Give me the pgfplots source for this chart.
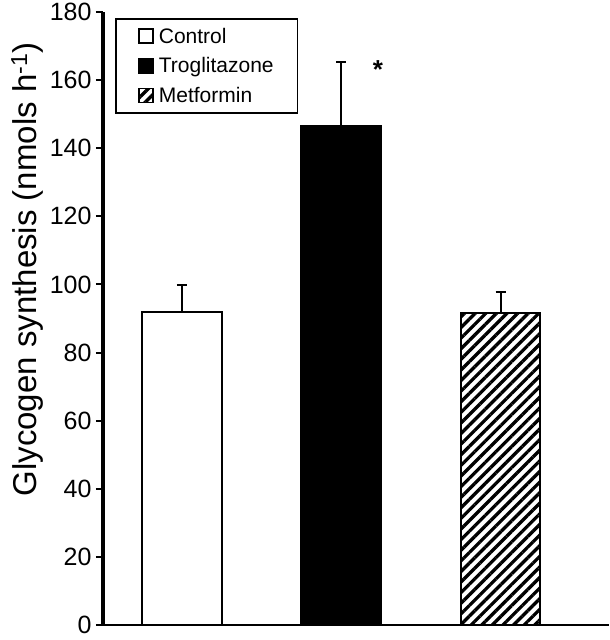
\documentclass[border=0pt]{standalone}
\usepackage{fontspec}
\setmainfont{Liberation Sans}
\usepackage{pgfplots}
\pgfplotsset{compat=1.18}
\usetikzlibrary{patterns.meta}
\pgfplotsset{sqlegend/.style={legend image code/.code={\draw[##1,line width=1.5pt] (0pt,-7pt) rectangle (14pt,7pt); \path (0pt,0pt) (17pt,0pt);}}}
\begin{document}
\begin{tikzpicture}
\begin{axis}[
  scale only axis, width=506pt, height=613pt,
  xmin=-0.495, xmax=2.68, ymin=0, ymax=180,
  axis x line*=bottom, axis y line*=left,
  x axis line style={line width=2pt},
  y axis line style={line width=3.5pt},
  xtick=\empty,
  ytick={0,20,...,180},
  tick align=outside, major tick length=7pt,
  tick style={line width=2pt, black},
  /pgf/number format/assume math mode=true,
  tick label style={font=\fontsize{25}{25}\selectfont},
  yticklabel style={xshift=-1pt},
  ylabel={Glycogen synthesis (nmols h\textsuperscript{-1})},
  ylabel style={font=\fontsize{33}{33}\selectfont, at={(ticklabel cs:0.58)}},
  legend style={at={(rel axis cs:0.024,0.99)}, anchor=north west, draw=black, line width=1.5pt,
    font=\fontsize{21}{22}\selectfont, inner xsep=22pt, inner ysep=7pt, row sep=9pt},
  legend cell align=left,
  bar width=0.5,
  clip=false,
]
\addplot[ybar, draw=black, line width=2pt, fill=white, sqlegend,
  error bars/.cd, y dir=plus, y explicit,
  error bar style={line width=2pt},
  error mark options={rotate=90, mark size=5pt, line width=2pt}]
  coordinates {(0,92) +- (0,7.8)};
\addlegendentry{Control}
\addplot[ybar, draw=black, line width=2pt, fill=black, sqlegend,
  error bars/.cd, y dir=plus, y explicit,
  error bar style={line width=2pt},
  error mark options={rotate=90, mark size=5pt, line width=2pt}]
  coordinates {(1,146.4) +- (0,19)};
\addlegendentry{Troglitazone}
\addplot[ybar, draw=black, line width=2pt, pattern={Lines[angle=45,distance=7.5pt,line width=3.3pt]}, sqlegend,
  error bars/.cd, y dir=plus, y explicit,
  error bar style={line width=2pt},
  error mark options={rotate=90, mark size=5pt, line width=2pt}]
  coordinates {(2,91.7) +- (0,6.1)};
\addlegendentry{Metformin}
\node[font=\bfseries\fontsize{26}{26}\selectfont] at (axis cs:1.23,163) {*};
\end{axis}
\path (current axis.south west) ++(-103pt,-15pt) coordinate (bbA);
\path (current axis.north east) ++(0pt,12pt) coordinate (bbB);
\pgfresetboundingbox
\path[use as bounding box] (bbA) rectangle (bbB);
\end{tikzpicture}
\end{document}
